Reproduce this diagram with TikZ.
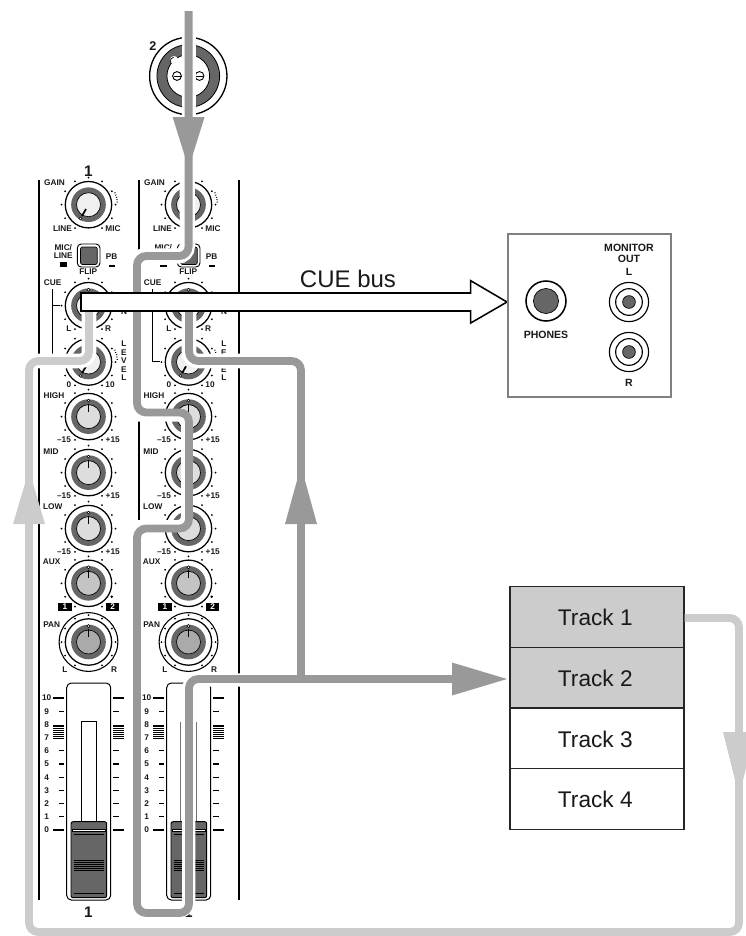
\documentclass[tikz,border=0pt]{standalone}
\usepackage{fontspec}
\setmainfont{Liberation Sans}
\definecolor{ringdark}{HTML}{666666}
\definecolor{sigdark}{HTML}{999999}
\definecolor{siglight}{HTML}{CCCCCC}
\definecolor{capgain}{HTML}{F0F0F0}
\definecolor{capeq}{HTML}{DDDDDD}
\definecolor{capaux}{HTML}{C4C4C4}
\definecolor{cappan}{HTML}{AAAAAA}
\tikzset{
  lbl/.style={font=\bfseries\fontsize{6.2}{6}\selectfont,inner sep=0pt,text=black!90},
  pnl/.style={font=\bfseries\fontsize{7.9}{8}\selectfont,inner sep=0pt,text=black!90},
  tracknode/.style={draw=black!85,line width=0.8pt,minimum width=130.5pt,minimum height=45.5pt,inner sep=0pt,font=\fontsize{17}{18}\selectfont,text=black!90,text height=13pt,text depth=0pt},
  sigpath/.style={line width=5.9pt,rounded corners=7pt},
  halo/.style={white,line width=10.5pt,rounded corners=7pt},
  haloslim/.style={white,line width=9pt},
  thinline/.style={black,line width=0.95pt}
}
\newcount\labn
\newcommand\lab[3]{\global\advance\labn by 1 \node[lbl] (lab\the\labn) at (#1,#2) {#3};}
\newcommand\pnllab[3]{\global\advance\labn by 1 \node[pnl] (lab\the\labn) at (#1,#2) {#3};}
% knob: x y capcolour pointerangle
\newcommand\mixknob[4]{%
  \begin{scope}[shift={(#1,#2)}]
    \foreach \a in {-150,-120,...,150}
      \fill[black] ({27*sin(\a)},{-27*cos(\a)}) circle[radius=0.75pt];
    \draw[black,line width=0.95pt,fill=white] (0,0) circle[radius=17.4pt];
    \fill[ringdark] (0,0) circle[radius=13pt];
    \draw[black,line width=0.5pt,fill=#3] (0,0) circle[radius=9pt];
    \draw[black,line width=1.3pt] ({5*sin(#4)},{-5*cos(#4)}) -- ({13*sin(#4)},{-13*cos(#4)});
    \draw[black,line width=0.4pt,fill=white] ({16*sin(#4)},{-16*cos(#4)}) circle[radius=1.1pt];
  \end{scope}}
\newcommand\mixdots[2]{%
  \draw[black,line width=1pt,dash pattern=on 0.6pt off 1.2pt]
    ({#1+29*sin(65)},{#2-29*cos(65)}) arc[start angle=25,end angle=3,radius=21.75pt];}
\begin{document}
\begin{tikzpicture}[x=0.75pt,y=-0.75pt]
\useasboundingbox (0,0) rectangle (746,936);

% ---- jack ----
\coordinate (jackc) at (188.3,76);
\draw[black,line width=1pt,fill=white] (jackc) circle[radius=29pt];
\draw[black,line width=0.6pt,fill=ringdark] (jackc) circle[radius=23.5pt];
\draw[black,line width=0.6pt,fill=white] (jackc) circle[radius=16pt];
\draw[black,line width=0.7pt] (177,76) circle[radius=3.3pt];
\draw[black,line width=0.7pt] (199.5,76) circle[radius=3.3pt];
\draw[black,line width=0.7pt] (174,76) -- (182,76);
\draw[black,line width=0.7pt] (195,76) -- (203,76);
\fill[white] (174,60) circle[radius=3pt];
\draw[black,line width=0.5pt] (171,63) arc[start angle=210,end angle=100,radius=3pt];
\node[lbl,font=\bfseries\fontsize{9.5}{10}\selectfont] (jacklab) at (153,46) {2};

% ---- channel strips ----
\draw[thinline] (39,180) -- (39,900);
\draw[thinline] (139,180) -- (139,900);
\draw[thinline] (239,180) -- (239,900);
\lab{88.5}{171}{\fontsize{11.5}{12}\selectfont 1}
\lab{88.5}{912}{\fontsize{11.5}{12}\selectfont 1}
\lab{188.5}{912}{\fontsize{11.5}{12}\selectfont 1}

\foreach \c in {0,100}{
\begin{scope}[xshift=\c*0.75pt]
  \lab{54.5}{182.7}{GAIN}
  \lab{62.5}{228.7}{LINE}
  \lab{113}{228.7}{MIC}
  \mixknob{88.5}{204.7}{capgain}{-150}
  \mixdots{88.5}{204.7}
  % switch
  \lab{63.3}{247.7}{MIC/}
  \lab{63.3}{256}{LINE}
  \lab{111.7}{256.7}{PB}
  \lab{88.3}{272}{FLIP}
  \draw[black,line width=0.7pt,fill=white,rounded corners=3pt] (77.3,244) rectangle (100,267);
  \draw[black,line width=0.5pt,fill=ringdark,rounded corners=1.5pt] (80.5,247) rectangle (97.3,264.5);
  \fill[black] (60,265) rectangle (66.5,266.5);
  \fill[black] (108.5,265) rectangle (115,266.5);
  % cue
  \lab{52.7}{283}{CUE}
  \draw[black,line width=0.7pt] (52.7,289) -- (52.7,361) -- (60,361);
  \draw[black,line width=0.7pt] (52.7,305.7) -- (60,305.7);
  \mixknob{88.5}{305.7}{capgain}{0}
  \lab{69}{329}{L}
  \lab{108}{329}{R}
  \lab{124}{312}{N}
  % level
  \mixknob{88.5}{362}{capgain}{-150}
  \mixdots{88.5}{362}
  \lab{69}{385}{0}
  \lab{110}{385}{10}
  \lab{124}{344}{L}
  \lab{124}{352.5}{E}
  \lab{124}{361}{V}
  \lab{124}{369.5}{E}
  \lab{124}{378}{L}
  % EQ
  \lab{54}{396}{HIGH}
  \mixknob{88.5}{416.6}{capeq}{0}
  \lab{64}{440}{–15}
  \lab{112.7}{440}{+15}
  \lab{51}{452}{MID}
  \mixknob{88.5}{472.6}{capeq}{0}
  \lab{64}{496}{–15}
  \lab{112.7}{496}{+15}
  \lab{52.7}{506.7}{LOW}
  \mixknob{88.5}{528.6}{capeq}{0}
  \lab{64}{552}{–15}
  \lab{112.7}{552}{+15}
  % aux
  \lab{51.7}{561.7}{AUX}
  \mixknob{88.5}{583.3}{capaux}{0}
  \fill[black] (111.7,596.7) circle[radius=1pt];
  \fill[black] (58.3,603.3) rectangle (71.7,610.7);
  \fill[black] (106,603.3) rectangle (119.3,610.7);
  \node[lbl,text=white] (auxa\c) at (65,607) {1};
  \node[lbl,text=white] (auxb\c) at (112.7,607) {2};
  % pan
  \lab{51.7}{625}{PAN}
  \draw[black,line width=0.8pt,fill=white] (88.5,642) circle[radius=22pt];
  \mixknob{88.5}{642}{cappan}{0}
  \lab{65}{669.5}{L}
  \lab{114}{669.5}{R}
  % fader scale
  \foreach \i/\t in {0/10,1/9,2/8,3/7,4/6,5/5,6/4,7/3,8/2,9/1,10/0}{
    \pgfmathsetmacro\yy{698+13.2*\i}
    \lab{46.7}{\yy}{\t}
  }
  \foreach \i in {1,4,5,6,7,8,9}{
    \pgfmathsetmacro\yy{698+13.2*\i}
    \draw[black,line width=0.9pt] (59,\yy) -- (64,\yy);
    \draw[black,line width=0.9pt] (113.3,\yy) -- (118.5,\yy);
  }
  \foreach \yy in {698,830}{
    \draw[black,line width=1.7pt] (53.3,\yy) -- (64,\yy);
    \draw[black,line width=1.7pt] (113.3,\yy) -- (124,\yy);
  }
  \foreach \i in {0,...,7}{
    \pgfmathsetmacro\yy{725+1.85*\i}
    \draw[black,line width=0.55pt] (53.3,\yy) -- (64,\yy);
    \draw[black,line width=0.55pt] (113.3,\yy) -- (124,\yy);
  }
  % fader frame and cap
  \draw[black,line width=0.75pt,rounded corners=3.5pt,fill=white] (66.7,683) rectangle (110.7,900);
\end{scope}
}
% slots
\draw[black,line width=0.8pt,fill=white] (81.3,721.7) rectangle (96.3,821.7);
\draw[black!55,line width=0.6pt] (180.5,721.7) -- (180.5,821.7);
\draw[black!55,line width=0.6pt] (196.3,721.7) -- (196.3,821.7);
\foreach \c in {0,100}{
\begin{scope}[xshift=\c*0.75pt]
  \draw[black,line width=0.7pt,fill=ringdark,rounded corners=1.5pt] (71,821.7) rectangle (106.7,897.7);
  \draw[black,line width=0.6pt,fill=white] (72.5,829) rectangle (105,831.5);
  \draw[black,line width=0.7pt] (73.5,834) -- (104,834);
  \foreach \yy in {860.5,862.5,864.5,866.5,868.5,870.5}
    \draw[black,line width=0.6pt] (74,\yy) -- (103.5,\yy);
  \draw[black,line width=0.7pt] (74,893) -- (103.5,893);
\end{scope}
}
% lit MIC/LINE LED on channel 1
\fill[black] (60,261.5) rectangle (66.5,266.5);

% ---- named waypoints ----
\node[tracknode,fill=siglight] (track1) at (597,617) {Track 1\hspace*{2.5pt}};
\node[tracknode,fill=siglight] (track2) at (597,677.5) {Track 2\hspace*{2.5pt}};
\node[tracknode,fill=white] (track3) at (597,738.5) {Track 3\hspace*{2.5pt}};
\node[tracknode,fill=white] (track4) at (597,799) {Track 4\hspace*{2.5pt}};

\coordinate (dtop) at (188.6,11);
\coordinate (d1) at (188.6,256);
\coordinate (d2) at (137,256);
\coordinate (d3) at (137,412.5);
\coordinate (d4) at (189,412.5);
\coordinate (d5) at (189,528.5);
\coordinate (d6) at (137,528.5);
\coordinate (d7) at (137,913);
\coordinate (d8) at (189,913);
\coordinate (d9) at (189,679);
\coordinate (dhead) at (452,679);
\coordinate (dtip) at (507,679);
\coordinate (b0) at (301,679);
\coordinate (b1) at (301,361);
\coordinate (b2) at (189,361);
\coordinate (b3) at (189,305);
\coordinate (l1) at (739,618);
\coordinate (l2) at (739,932);
\coordinate (l3) at (29,932);
\coordinate (l4) at (29,361);
\coordinate (l5) at (89,361);
\coordinate (l6) at (89,305);

% ---- halos ----
\draw[halo,line width=11pt] (36,361) -- (l5) -- (l6);
\draw[haloslim,line width=10.2pt] (188.7,28) -- (188.7,130);
\draw[halo,line width=11.5pt] (187.2,130) -- (187.2,256) -- (135,256) -- (135,405);
\draw[haloslim] (187,421) -- (187,521);
\draw[halo,line width=9pt,rounded corners=7pt] (135,415.5) -- (187,415.5) -- (187,526) -- (135,526);
\draw[halo,line width=10pt] (134.5,540) -- (134.5,911) -- (188.8,911) -- (188.8,680) -- (250,680);
\draw[halo,line width=11pt] (250,361) -- (b2) -- (b3);

% ---- signal paths ----
\draw[siglight,sigpath] (track1.east |- l1) -- (l1) -- (l2) -- (l3) -- (l4) -- (l5) -- (l6);
\fill[siglight] (13,524) -- (45,524) -- (29,470) -- cycle;
\fill[siglight] (723,732) -- (755,732) -- (739,796) -- cycle;

\draw[sigdark,sigpath] (dtop) -- (d1) -- (d2) -- (d3) -- (d4) -- (d5) -- (d6) -- (d7) -- (d8) -- (d9) -- (dhead);
\draw[sigdark,sigpath] (b0) -- (b1) -- (b2) -- (b3);
\fill[sigdark] (172.6,117) -- (204.6,117) -- (188.6,168) -- cycle;
\fill[sigdark] (285,524) -- (317,524) -- (301,466) -- cycle;
\fill[sigdark] (dhead) ++(0,-16.5) -- (dtip) -- (452,695.5) -- cycle;

% ---- CUE bus arrow ----
\coordinate (cuestart) at (81,302);
\draw[black,line width=1.15pt,fill=white,line join=miter] (81,293) -- (470.7,293) -- (470.7,280.7) -- (507,302) -- (470.7,323) -- (470.7,311) -- (81,311) -- cycle;
\node[inner sep=0pt,font=\fontsize{18}{18}\selectfont,text=black!90] (cuebus) at (348,279) {CUE bus};

% ---- monitor panel ----
\node[draw=black!50,line width=1.9pt,minimum width=122pt,minimum height=122pt,inner sep=0pt] (panel) at (589.5,315.5) {};
\draw[black,line width=1.15pt,fill=white] (546,301) circle[radius=15pt];
\fill[ringdark] (546,301) circle[radius=9.4pt];
\draw[black,line width=0.5pt] (546,301) circle[radius=9.4pt];
\foreach \yy in {302,352}{
  \draw[black,line width=0.85pt,fill=white] (629,\yy) circle[radius=14.7pt];
  \draw[black,line width=0.85pt,fill=white] (629,\yy) circle[radius=10pt];
  \draw[black,line width=0.5pt,fill=ringdark] (629,\yy) circle[radius=4.8pt];
}
\pnllab{629}{248}{MONITOR}
\pnllab{629}{258.5}{OUT}
\pnllab{629}{272}{L}
\pnllab{546}{335}{PHONES}
\pnllab{629}{383}{R}
\end{tikzpicture}
\end{document}
